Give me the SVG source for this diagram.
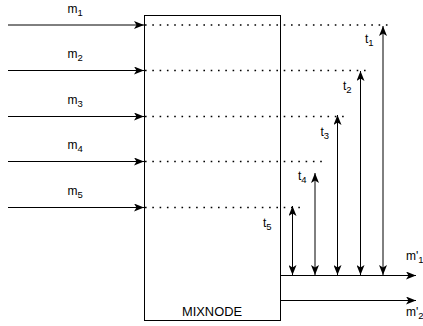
<svg xmlns="http://www.w3.org/2000/svg" width="423" height="326" viewBox="0 0 423 326">
<style>
text{font-family:"Liberation Sans",Arial,sans-serif;font-size:12px;fill:#000}
.sub{font-size:9.5px}
.ln{stroke:#000;stroke-width:1;fill:none}
.dot{stroke:#000;stroke-width:1.6;fill:none;stroke-dasharray:1.6 5.7}
.box{fill:#fff;stroke:#000;stroke-width:1}
</style>
<defs>
<marker id="ah" viewBox="0 -4 10 8" refX="10" refY="0" markerWidth="10" markerHeight="8" markerUnits="userSpaceOnUse" orient="auto-start-reverse">
<path d="M0,-4 L10,0 L0,4 L2.5,0 z" fill="#000"/>
</marker>
</defs>
<g id="mixnode">
<rect class="box" x="144.5" y="15.5" width="136" height="305"/>
<text x="182" y="316" textLength="60" lengthAdjust="spacingAndGlyphs">MIXNODE</text>
</g>
<g id="connectors">
<line class="ln" x1="8" y1="25" x2="144" y2="25" marker-end="url(#ah)"/>
<line class="ln" x1="8" y1="70.5" x2="144" y2="70.5" marker-end="url(#ah)"/>
<line class="ln" x1="8" y1="116.5" x2="144" y2="116.5" marker-end="url(#ah)"/>
<line class="ln" x1="8" y1="161.5" x2="144" y2="161.5" marker-end="url(#ah)"/>
<line class="ln" x1="8" y1="207.5" x2="144" y2="207.5" marker-end="url(#ah)"/>
<line class="dot" x1="145" y1="25" x2="391" y2="25"/>
<line class="dot" x1="145" y1="70.5" x2="367" y2="70.5"/>
<line class="dot" x1="145" y1="116.5" x2="344" y2="116.5"/>
<line class="dot" x1="145" y1="161.5" x2="326" y2="161.5"/>
<line class="dot" x1="145" y1="207.5" x2="300" y2="207.5"/>
<line class="ln" x1="383" y1="26" x2="383" y2="275" marker-start="url(#ah)" marker-end="url(#ah)"/>
<line class="ln" x1="360.5" y1="71" x2="360.5" y2="275" marker-start="url(#ah)" marker-end="url(#ah)"/>
<line class="ln" x1="337.5" y1="115" x2="337.5" y2="275" marker-start="url(#ah)" marker-end="url(#ah)"/>
<line class="ln" x1="315" y1="173" x2="315" y2="275" marker-start="url(#ah)" marker-end="url(#ah)"/>
<line class="ln" x1="292.5" y1="206" x2="292.5" y2="275" marker-start="url(#ah)" marker-end="url(#ah)"/>
<line class="ln" x1="281" y1="275.5" x2="416" y2="275.5" marker-end="url(#ah)"/>
<line class="ln" x1="281" y1="300.5" x2="416" y2="300.5" marker-end="url(#ah)"/>
</g>
<g id="labels">
<text x="67.5" y="13">m<tspan class="sub" dy="3">1</tspan></text>
<text x="67.5" y="58">m<tspan class="sub" dy="3">2</tspan></text>
<text x="67.5" y="104">m<tspan class="sub" dy="3">3</tspan></text>
<text x="67.5" y="149">m<tspan class="sub" dy="3">4</tspan></text>
<text x="67.5" y="195">m<tspan class="sub" dy="3">5</tspan></text>
<text x="365" y="43">t<tspan class="sub" dy="3">1</tspan></text>
<text x="343" y="90">t<tspan class="sub" dy="3">2</tspan></text>
<text x="320.5" y="136">t<tspan class="sub" dy="3">3</tspan></text>
<text x="298" y="180">t<tspan class="sub" dy="3">4</tspan></text>
<text x="263" y="227">t<tspan class="sub" dy="3">5</tspan></text>
<text x="406" y="260">m'<tspan class="sub" dy="3">1</tspan></text>
<text x="406" y="316">m'<tspan class="sub" dy="3">2</tspan></text>
</g>
</svg>
